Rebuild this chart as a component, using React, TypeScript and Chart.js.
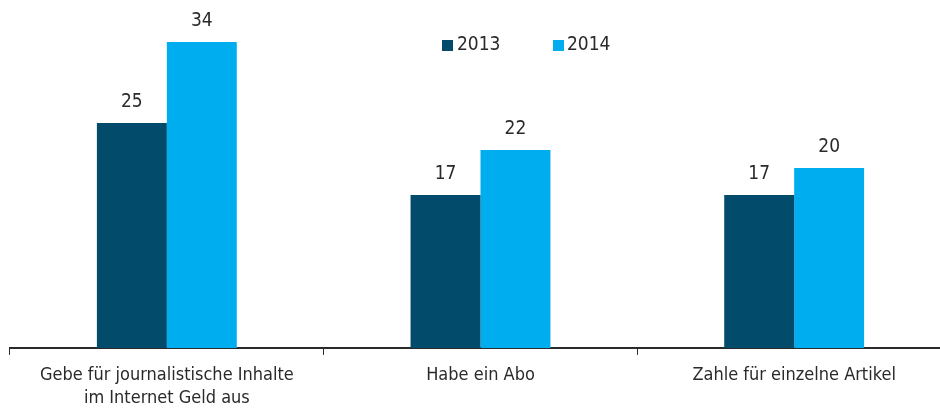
import React, { useEffect, useRef } from "react";
import { Chart, registerables } from "chart.js";

Chart.register(...registerables);

const categories: (string | string[])[] = [
  ["Gebe für journalistische Inhalte", "im Internet Geld aus"],
  "Habe ein Abo",
  "Zahle für einzelne Artikel",
];
const seriesLabels = ["2013", "2014"];
const values2013 = [25, 17, 17];
const values2014 = [34, 22, 20];
const colors = ["#024b6b", "#00aeef"];

const FONT = "'Liberation Sans Narrow', 'DejaVu Sans Condensed', 'Roboto', sans-serif";
const TEXT = "#2a2a2a";

const overlayPlugin = {
  id: "overlay",
  afterDatasetsDraw(chart: any) {
    const ctx = chart.ctx;
    ctx.save();
    ctx.font = `19px ${FONT}`;
    ctx.fillStyle = TEXT;
    ctx.textAlign = "center";
    ctx.textBaseline = "alphabetic";
    chart.data.datasets.forEach((ds: any, di: number) => {
      const meta = chart.getDatasetMeta(di);
      meta.data.forEach((bar: any, i: number) => {
        ctx.fillText(String(ds.data[i]), bar.x, bar.y - 16);
      });
    });
    // legend
    const items = [
      { x: 442, textX: 457 },
      { x: 553, textX: 567 },
    ];
    ctx.textAlign = "left";
    ctx.textBaseline = "middle";
    ctx.font = `19px ${FONT}`;
    chart.data.datasets.forEach((ds: any, di: number) => {
      const it = items[di];
      ctx.fillStyle = ds.backgroundColor;
      ctx.fillRect(it.x, 40, 11, 11);
      ctx.fillStyle = TEXT;
      ctx.fillText(ds.label, it.textX, 45);
    });
    ctx.restore();
  },
};

export default function App() {
  const ref = useRef<HTMLCanvasElement>(null);
  useEffect(() => {
    if (!ref.current) return;
    const chart = new Chart(ref.current, {
      type: "bar",
      data: {
        labels: categories,
        datasets: [
          { label: seriesLabels[0], data: values2013, backgroundColor: colors[0] },
          { label: seriesLabels[1], data: values2014, backgroundColor: colors[1] },
        ],
      },
      options: {
        animation: false,
        responsive: false,
        maintainAspectRatio: false,
        datasets: { bar: { categoryPercentage: 0.446, barPercentage: 1 } },
        layout: { padding: { left: 10, right: 9, top: 6, bottom: 0 } },
        plugins: { legend: { display: false }, tooltip: { enabled: false } },
        scales: {
          y: { display: false, min: 0, max: 38 },
          x: {
            border: { display: true, color: "#2a2a2a", width: 2 },
            grid: {
              display: true,
              drawOnChartArea: false,
              drawTicks: true,
              tickLength: 7,
              color: "#2a2a2a",
              lineWidth: 1,
              offset: true,
            },
            ticks: {
              color: TEXT,
              font: { family: FONT, size: 18, lineHeight: 1.28 },
              padding: 9,
              maxRotation: 0,
              autoSkip: false,
            },
          },
        },
      },
      plugins: [overlayPlugin],
    });
    return () => chart.destroy();
  }, []);
  return (
    <div style={{ position: "fixed", left: 0, top: 0, width: 940, height: 412, overflow: "hidden", background: "#fff" }}>
      <canvas ref={ref} width={960} height={419} style={{ width: 960, height: 419, display: "block" }} />
    </div>
  );
}
